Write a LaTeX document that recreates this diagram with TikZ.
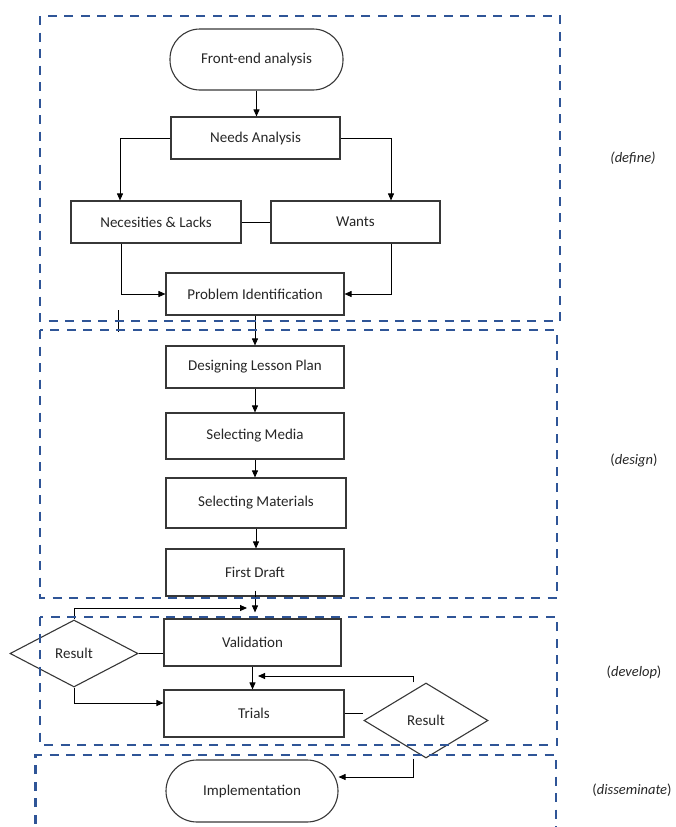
\documentclass[tikz,border=0pt]{standalone}
\usepackage{fontspec}
\setmainfont{Carlito}
\usetikzlibrary{arrows.meta,shapes.geometric}
\definecolor{dashblue}{RGB}{47,85,151}
\definecolor{boxgray}{RGB}{55,55,55}
\begin{document}
\begin{tikzpicture}[x=1pt,y=-1pt,
  every node/.style={font=\fontsize{15}{18}\selectfont, text=black!85},
  box/.style={draw=boxgray, line width=1.1pt, rectangle, inner sep=0pt},
  term/.style={box, rounded corners=30pt},
  dec/.style={draw=boxgray, line width=1.1pt, diamond, inner sep=0pt},
  arr/.style={draw=black, line width=0.9pt, -{Triangle[length=7pt,width=6pt]}},
  ln/.style={draw=black, line width=0.9pt},
  phase/.style={draw=dashblue, line width=2.6pt, dash pattern=on 9pt off 7.5pt},
  lab/.style={font=\fontsize{14.5}{17}\selectfont, text=black!85}]
\useasboundingbox (0,0) rectangle (676,827);

% nodes
\node[term, minimum width=173pt, minimum height=61pt] (fe) at (256.5,59.5) {Front-end analysis};
\node[box, minimum width=169pt, minimum height=42pt] (na) at (255.5,138) {Needs Analysis};
\node[box, minimum width=170pt, minimum height=42pt] (nl) at (156,222) {Necesities \& Lacks};
\node[box, minimum width=169pt, minimum height=42pt] (wa) at (355.5,222) {Wants};
\node[box, minimum width=178pt, minimum height=42pt] (pi) at (255,294) {Problem Identification};
\node[box, minimum width=178pt, minimum height=42pt] (dl) at (255,367) {Designing Lesson Plan};
\node[box, minimum width=178pt, minimum height=46pt] (sm) at (255,436) {Selecting Media};
\node[box, minimum width=180pt, minimum height=50pt] (sma) at (256,503) {Selecting Materials};
\node[box, minimum width=178pt, minimum height=47pt] (fd) at (255,572.5) {First Draft};
\node[box, minimum width=177pt, minimum height=47pt] (va) at (252.5,642.5) {Validation};
\node[box, minimum width=180pt, minimum height=47pt] (tr) at (254,713.5) {Trials};
\node[dec, minimum width=128pt, minimum height=67pt] (r1) at (74,653.5) {Result};
\node[dec, minimum width=124pt, minimum height=75pt] (r2) at (426,720.5) {Result};
\node[term, minimum width=172pt, minimum height=62pt, rounded corners=31pt] (im) at (252,791) {Implementation};

% phase labels
\node[lab] (ldef) at (633,158) {\textit{(define)}};
\node[lab] (ldes) at (634,460) {(\textit{design})};
\node[lab] (ldev) at (634,672) {(\textit{develop})};
\node[lab] (ldis) at (632,790) {(\textit{disseminate})};

% free ends
\coordinate (c1) at (247,608);
\coordinate (c2) at (258,676);
\coordinate (s1) at (118,310);
\coordinate (s2) at (118,332);

% connectors
\draw[arr] (fe.south) -- (fe.south |- na.north);
\draw[arr] (na.west) -| ([xshift=-36pt]nl.north);
\draw[arr] (na.east) -| ([xshift=35.5pt]wa.north);
\draw[ln] (nl.east) -- (wa.west);
\draw[arr] ([xshift=-35pt]nl.south) |- (pi.west);
\draw[arr] ([xshift=35.5pt]wa.south) |- (pi.east);
\draw[arr] (pi.south) -- (pi.south |- dl.north);
\draw[arr] (dl.south) -- (dl.south |- sm.north);
\draw[arr] (sm.south) -- (sm.south |- sma.north);
\draw[arr] (sma.south) -- (sma.south |- fd.north);
\draw[arr] ([yshift=6pt]fd.south) -- ([yshift=6pt]fd.south |- va.north);
\draw[arr] (r1.north) |- (c1);
\draw[ln] (r1.east) -- (r1.east -| va.west);
\draw[arr] (va.south) -- (va.south |- tr.north);
\draw[arr] ([xshift=-13pt]r2.north) |- (c2);
\draw[ln] (tr.east) -- (tr.east -| r2.west);
\draw[arr] (r1.south) |- ([yshift=10.5pt]tr.west);
\draw[arr] ([xshift=-13pt]r2.south) |- ([yshift=14pt]im.east);
\draw[ln] (s1) -- (s2);

% phase boxes
\draw[phase] (40,16) rectangle (560,321);
\draw[phase] (40,330) rectangle (557,598);
\draw[phase] (40,617) rectangle (557,745);
\draw[phase] (35.5,840) -- (35.5,755) -- (556,755) -- (556,840);
\end{tikzpicture}
\end{document}
